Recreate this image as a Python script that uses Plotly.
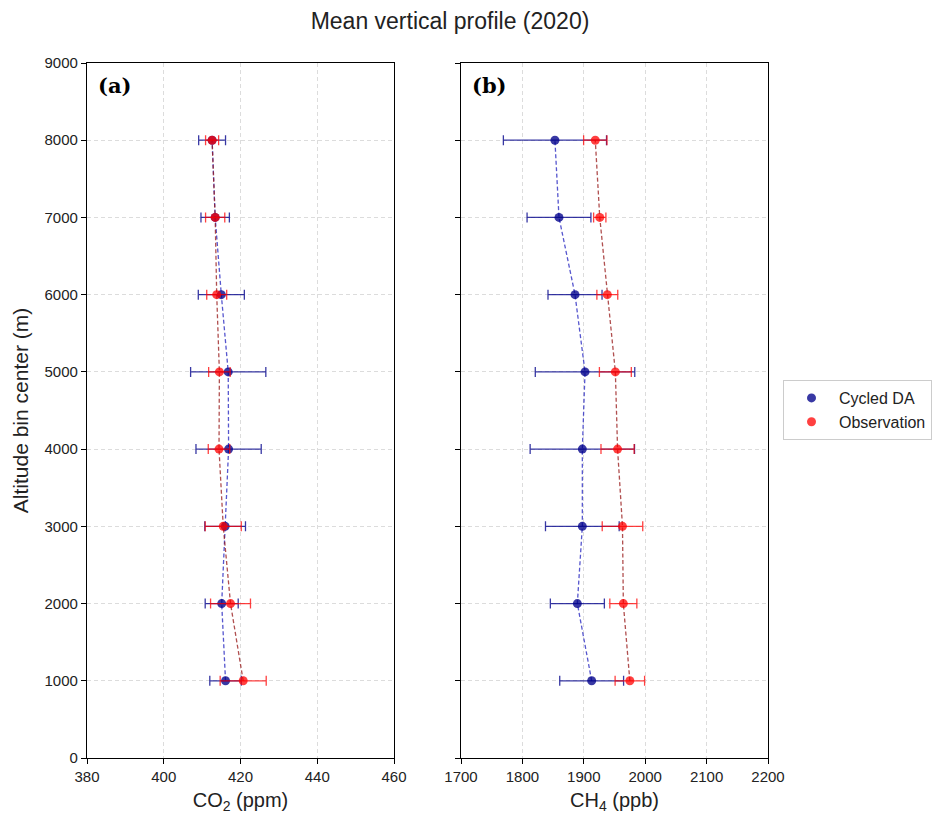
import plotly.graph_objects as go

# altitude bin centres (m)
altitude = [1000, 2000, 3000, 4000, 5000, 6000, 7000, 8000]

# CO2 (ppm): cycled DA and observations, mean and std
co2_da = [416.1, 415.1, 416.0, 416.9, 416.8, 415.0, 413.4, 412.6]
co2_da_std = [4.1, 4.3, 5.3, 8.5, 9.8, 6.0, 3.7, 3.5]
co2_obs = [420.7, 417.4, 415.5, 414.4, 414.5, 413.8, 413.4, 412.6]
co2_obs_std = [6.0, 5.2, 4.7, 2.8, 2.8, 2.6, 2.5, 1.7]

# CH4 (ppb)
ch4_da = [1912.8, 1889.5, 1897.6, 1897.6, 1902.0, 1885.7, 1859.6, 1853.0]
ch4_da_std = [52, 44, 60, 85, 81, 44, 52, 84]
ch4_obs = [1975.0, 1964.4, 1963.0, 1955.0, 1951.4, 1938.3, 1926.0, 1918.7]
ch4_obs_std = [24, 22, 33, 27, 26, 17, 10, 19]

# page has an 8px body margin, so the figure is 8px smaller
W, H = 941, 818
BLUE_M = "rgba(0,0,139,0.78)"
RED_M = "rgba(255,0,0,0.75)"
BLUE_L = "rgba(30,30,190,0.75)"
RED_L = "rgba(150,20,20,0.75)"
FONT = "Liberation Sans, Arial"

fig = go.Figure()

panels = [
    ("x", "y", co2_da, co2_da_std, co2_obs, co2_obs_std, True),
    ("x2", "y2", ch4_da, ch4_da_std, ch4_obs, ch4_obs_std, False),
]
for xa, ya, da, da_s, obs, obs_s, legend in panels:
    # dashed profile lines
    fig.add_trace(go.Scatter(x=da, y=altitude, xaxis=xa, yaxis=ya, mode="lines",
                             line=dict(color=BLUE_L, width=1.3, dash="4px,2.5px"),
                             showlegend=False, hoverinfo="skip"))
    fig.add_trace(go.Scatter(x=obs, y=altitude, xaxis=xa, yaxis=ya, mode="lines",
                             line=dict(color=RED_L, width=1.3, dash="4px,2.5px"),
                             showlegend=False, hoverinfo="skip"))
    # points with error bars
    fig.add_trace(go.Scatter(x=da, y=altitude, xaxis=xa, yaxis=ya, mode="markers",
                             name="Cycled DA", showlegend=legend,
                             marker=dict(color=BLUE_M, size=9),
                             error_x=dict(type="data", array=da_s, color=BLUE_M,
                                          thickness=1.3, width=5)))
    fig.add_trace(go.Scatter(x=obs, y=altitude, xaxis=xa, yaxis=ya, mode="markers",
                             name="Observation", showlegend=legend,
                             marker=dict(color=RED_M, size=9),
                             error_x=dict(type="data", array=obs_s, color=RED_M,
                                          thickness=1.3, width=5)))

axis_common = dict(
    showline=True, linecolor="black", linewidth=1.2, mirror=True,
    ticks="outside", ticklen=5, tickcolor="black",
    showgrid=True, gridcolor="#dcdcdc", griddash="4px,3px", gridwidth=1,
    zeroline=False, automargin=False,
    tickfont=dict(family=FONT, size=15, color="#222"),
)
xtitle_font = dict(family=FONT, size=20, color="#222")
ytitle_font = dict(family=FONT, size=21, color="#222")

y_dom = [(H - 750) / H, (H - 55) / H]

fig.update_layout(
    width=W, height=H,
    margin=dict(l=0, r=0, t=0, b=0),
    plot_bgcolor="white", paper_bgcolor="white",
    font=dict(family=FONT, color="#222"),
    title=dict(text="Mean vertical profile (2020)", x=442 / W, xanchor="center",
               y=1 - 13 / H, yanchor="middle",
               font=dict(size=23, color="#222")),
    xaxis=dict(domain=[79 / W, 386 / W], range=[380, 460], dtick=20,
               title=dict(text="CO<sub>2</sub> (ppm)", font=xtitle_font, standoff=8),
               anchor="y", **axis_common),
    yaxis=dict(domain=y_dom, range=[0, 9000], dtick=1000,
               title=dict(text="Altitude bin center (m)", font=ytitle_font, standoff=10),
               anchor="x", **axis_common),
    xaxis2=dict(domain=[453 / W, 760 / W], range=[1700, 2200], dtick=100,
                title=dict(text="CH<sub>4</sub> (ppb)", font=xtitle_font, standoff=8),
                anchor="y2", **axis_common),
    yaxis2=dict(domain=y_dom, range=[0, 9000], dtick=1000,
                showticklabels=False, anchor="x2", **axis_common),
    legend=dict(x=775 / W, y=(H - 402) / H, xanchor="left", yanchor="middle",
                bordercolor="#cccccc", borderwidth=1, bgcolor="white",
                itemwidth=45,
                font=dict(size=16, color="#222"), tracegroupgap=2),
)

for label, xref, yref in [("(a)", "x domain", "y domain"), ("(b)", "x2 domain", "y2 domain")]:
    fig.add_annotation(text="<b>%s</b>" % label, xref=xref, yref=yref,
                       x=0.03, y=0.988, xanchor="left", yanchor="top", showarrow=False,
                       font=dict(family="DejaVu Serif", size=21, color="black"))

fig.write_html("out.html")
